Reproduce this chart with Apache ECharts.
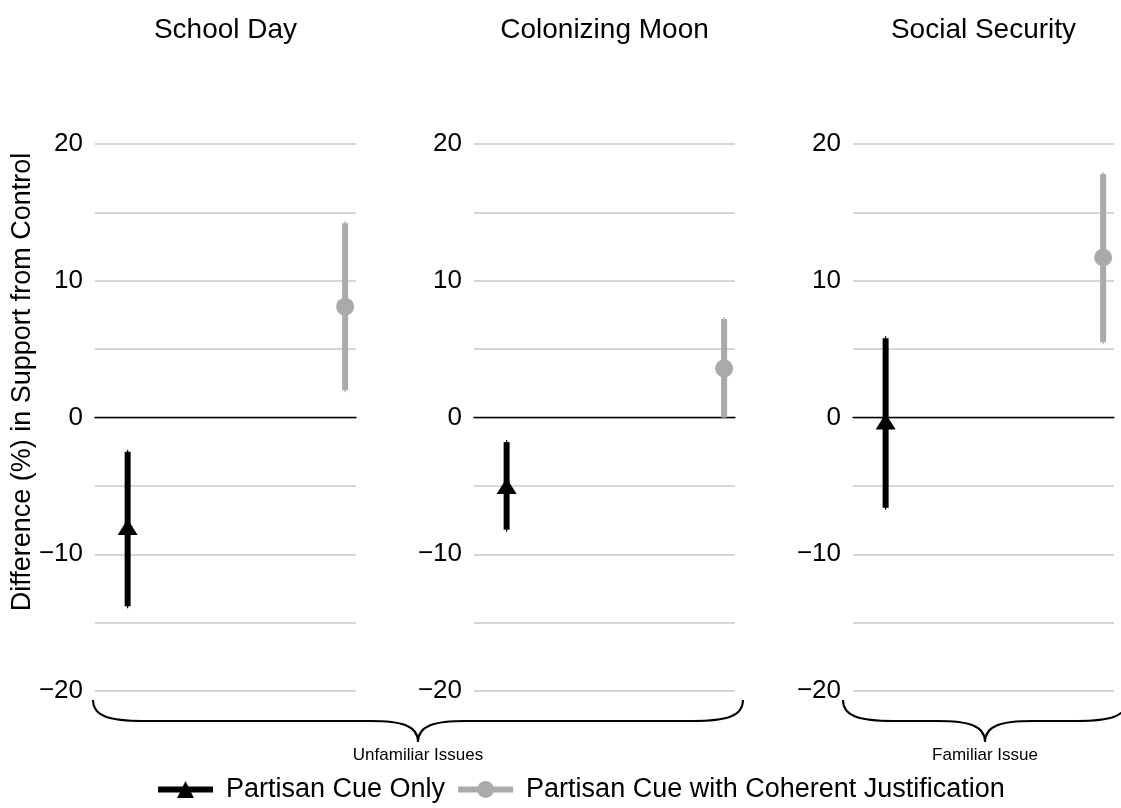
<!DOCTYPE html>
<html>
<head>
<meta charset="utf-8">
<script src="https://cdn.jsdelivr.net/npm/echarts@6/dist/echarts.min.js"></script>
<style>
  html, body { margin: 0; padding: 0; background: #ffffff; }
  #chart { width: 1121px; height: 808px; }
</style>
</head>
<body>
<div id="chart"></div>
<script>
// Issues shown as facets
const issues = ['School Day', 'Colonizing Moon', 'Social Security'];
// Treatment conditions (x position 1 and 2 inside each facet)
const conditions = ['Partisan Cue Only', 'Partisan Cue with Coherent Justification'];
const conditionX = [1, 2];

// Partisan cue only: estimate and interval bounds
const cueEst  = [-8.0, -5.0, -0.3];
const cueLow  = [-13.8, -8.2, -6.6];
const cueHigh = [-2.5, -1.8, 5.8];

// Partisan cue with coherent justification: estimate and interval bounds
const justEst  = [8.1, 3.6, 11.7];
const justLow  = [2.0, 0.0, 5.5];
const justHigh = [14.2, 7.2, 17.8];

// Value axis ticks
const yTicks = [-20, -10, 0, 10, 20];

// Groups of facets bracketed under the panels
const groupLabels = ['Unfamiliar Issues', 'Familiar Issue'];

// ---- layout ----
const FONT = '"Liberation Sans", Arial, Helvetica, sans-serif';
const panelLeft = [95, 474, 853];
const panelWidth = 261;
const panelTop = 144;
const panelHeight = 547;
const colors = ['#000000', '#aaaaaa'];

const chart = echarts.init(document.getElementById('chart'), null, { renderer: 'canvas' });

const grids = [], xAxes = [], yAxes = [], titles = [], series = [];

// legend entries: line + symbol icons
series.push({
  name: conditions[0], type: 'line', xAxisIndex: 0, yAxisIndex: 0, data: [],
  symbol: 'triangle', color: colors[0],
  lineStyle: { color: colors[0], width: 6 }, itemStyle: { color: colors[0] }
});
series.push({
  name: conditions[1], type: 'line', xAxisIndex: 0, yAxisIndex: 0, data: [],
  symbol: 'circle', color: colors[1],
  lineStyle: { color: colors[1], width: 6 }, itemStyle: { color: colors[1] }
});

function intervalRenderer(color) {
  return function (params, api) {
    const x = api.value(0);
    const lo = api.coord([x, api.value(1)]);
    const hi = api.coord([x, api.value(2)]);
    return {
      type: 'group',
      children: [
        { type: 'line', shape: { x1: lo[0], y1: lo[1] + 2, x2: hi[0], y2: hi[1] - 2 },
          style: { stroke: color, lineWidth: 1.2, lineCap: 'butt' } },
        { type: 'line', shape: { x1: lo[0], y1: lo[1], x2: hi[0], y2: hi[1] },
          style: { stroke: color, lineWidth: 6, lineCap: 'butt' } }
      ]
    };
  };
}

issues.forEach(function (issue, i) {
  grids.push({ left: panelLeft[i], width: panelWidth, top: panelTop, height: panelHeight, containLabel: false });
  xAxes.push({
    gridIndex: i, type: 'value', min: 0.85, max: 2.05,
    axisLine: { show: true, onZero: true, lineStyle: { color: '#000000', width: 1.3 } },
    axisTick: { show: false }, axisLabel: { show: false }, splitLine: { show: false }
  });
  yAxes.push({
    gridIndex: i, type: 'value', min: -20, max: 20, interval: 5,
    axisLine: { show: false }, axisTick: { show: false },
    axisLabel: {
      margin: 12, fontSize: 26, color: '#000000', fontFamily: FONT,
      formatter: function (v) {
        return yTicks.indexOf(v) >= 0 ? String(v).replace('-', '\u2212') : '';
      }
    },
    splitLine: { show: true, lineStyle: { color: '#c8c8c8', width: 1.5 } }
  });
  titles.push({
    text: issue, left: panelLeft[i] + panelWidth / 2, top: 16, textAlign: 'center',
    padding: 0,
    textStyle: { fontSize: 28, fontWeight: 'normal', color: '#000000', fontFamily: FONT }
  });

  series.push({
    type: 'custom', name: conditions[0] + ' interval', xAxisIndex: i, yAxisIndex: i,
    renderItem: intervalRenderer(colors[0]),
    data: [[conditionX[0], cueLow[i], cueHigh[i]]], z: 2, silent: true
  });
  series.push({
    type: 'custom', name: conditions[1] + ' interval', xAxisIndex: i, yAxisIndex: i,
    renderItem: intervalRenderer(colors[1]),
    data: [[conditionX[1], justLow[i], justHigh[i]]], z: 2, silent: true
  });
  series.push({
    type: 'scatter', name: conditions[0] + ' estimate', xAxisIndex: i, yAxisIndex: i,
    symbol: 'triangle', symbolSize: [20, 16], itemStyle: { color: colors[0], opacity: 1 },
    data: [[conditionX[0], cueEst[i]]], z: 3, silent: true
  });
  series.push({
    type: 'scatter', name: conditions[1] + ' estimate', xAxisIndex: i, yAxisIndex: i,
    symbol: 'circle', symbolSize: 18, itemStyle: { color: colors[1], opacity: 1 },
    data: [[conditionX[1], justEst[i]]], z: 3, silent: true
  });
});

// curly brace under a run of panels, built from cubic curves and straight runs
function braceElements(x0, x1, y0, h, r, rm) {
  const xm = (x0 + x1) / 2;
  const yb = y0 + h;
  const st = { fill: 'none', stroke: '#000000', lineWidth: 2 };
  function curve(ax, ay, c1x, c1y, c2x, c2y, bx, by) {
    return { type: 'bezierCurve', shape: { x1: ax, y1: ay, cpx1: c1x, cpy1: c1y, cpx2: c2x, cpy2: c2y, x2: bx, y2: by }, style: st };
  }
  function seg(ax, ay, bx, by) {
    return { type: 'line', shape: { x1: ax, y1: ay, x2: bx, y2: by }, style: st };
  }
  return [
    curve(x0, y0, x0, y0 + h * 0.8, x0 + r * 0.35, yb, x0 + r, yb),
    seg(x0 + r, yb, xm - rm, yb),
    curve(xm - rm, yb, xm - rm * 0.35, yb, xm, yb + h * 0.2, xm, yb + h),
    curve(xm, yb + h, xm, yb + h * 0.2, xm + rm * 0.35, yb, xm + rm, yb),
    seg(xm + rm, yb, x1 - r, yb),
    curve(x1 - r, yb, x1 - r * 0.35, yb, x1, y0 + h * 0.8, x1, y0)
  ];
}

const braces = [
  { x0: 93, x1: 743, label: groupLabels[0] },
  { x0: 843, x1: 1127, label: groupLabels[1] }
];

const graphics = [
  {
    type: 'text', x: 23, y: 382, rotation: Math.PI / 2,
    style: {
      text: 'Difference (%) in Support from Control', fontSize: 27, fontFamily: FONT,
      fill: '#000000', textAlign: 'center', textVerticalAlign: 'middle'
    }
  }
];
braces.forEach(function (b) {
  braceElements(b.x0, b.x1, 700, 21, 50, 48).forEach(function (el) { graphics.push(el); });
  graphics.push({
    type: 'text', x: (b.x0 + b.x1) / 2, y: 755,
    style: {
      text: b.label, fontSize: 17, fontFamily: FONT, fill: '#000000',
      textAlign: 'center', textVerticalAlign: 'middle'
    }
  });
});

chart.setOption({
  backgroundColor: '#ffffff',
  animation: false,
  title: titles,
  grid: grids,
  xAxis: xAxes,
  yAxis: yAxes,
  legend: {
    data: conditions,
    left: 155, top: 776, padding: 0,
    itemWidth: 55, itemHeight: 21, itemGap: 10,
    lineStyle: { width: 6 },
    textStyle: { fontSize: 27, color: '#000000', fontFamily: FONT, padding: [0, 0, 0, 8] },
    selectedMode: false
  },
  series: series,
  graphic: graphics
});
</script>
</body>
</html>
